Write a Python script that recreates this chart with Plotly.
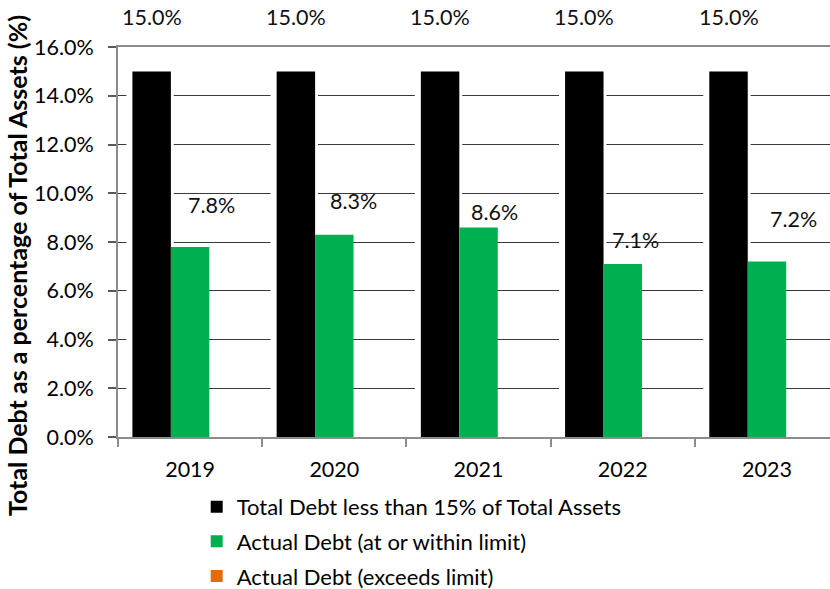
import plotly.graph_objects as go

# ---- data ----
years = ["2019", "2020", "2021", "2022", "2023"]
debt_limit = [15.0, 15.0, 15.0, 15.0, 15.0]
actual_within = [7.8, 8.3, 8.6, 7.1, 7.2]
actual_exceeds = [0.0, 0.0, 0.0, 0.0, 0.0]
y_tick_vals = [0, 2, 4, 6, 8, 10, 12, 14, 16]

series_names = [
    "Total Debt less than 15% of Total Assets",
    "Actual Debt (at or within limit)",
    "Actual Debt (exceeds limit)",
]

# ---- styling ----
FONT = "Lato"
FS = 21.5
BLACK = "#000000"
GREEN = "#00B050"
ORANGE = "#E46C0A"
AXIS_GREY = "#8C8C8C"
GRID = "#3A3A3A"

BAR_W = 0.8 / 3          # three bars share 80% of each category
OFFSETS = [-0.4, -0.4 + BAR_W, -0.4 + 2 * BAR_W]

# hand-placed label nudges (pixels) for the actual-debt labels
green_label_dx = [21, 19, 16, 13, 27]
green_label_dy = [42, 34, 15, 24, 43]
limit_label_dy = 54

fig = go.Figure()

# soft white halo behind the limit bars (hides grid lines next to them)
fig.add_trace(go.Bar(
    x=years, y=[v + 0.15 for v in debt_limit],
    width=BAR_W + 0.062, offset=OFFSETS[0] - 0.042,
    marker=dict(color="white", line=dict(width=0)),
    showlegend=False, hoverinfo="skip",
))

colors = [BLACK, GREEN, ORANGE]
values = [debt_limit, actual_within, actual_exceeds]
for i in range(3):
    fig.add_trace(go.Bar(
        x=years, y=values[i], name=series_names[i],
        width=BAR_W, offset=OFFSETS[i],
        marker=dict(color=colors[i], line=dict(width=0)),
        legendgroup=f"g{i}",
    ))

annotations = []
for i, yr in enumerate(years):
    annotations.append(dict(
        x=i + OFFSETS[0] + BAR_W / 2, y=debt_limit[i], xref="x", yref="y",
        text=f"{debt_limit[i]:.1f}%", showarrow=False,
        yshift=limit_label_dy, xanchor="center", yanchor="middle",
        font=dict(family=FONT, size=FS, color="#111111"),
    ))
    annotations.append(dict(
        x=i + OFFSETS[1] + BAR_W / 2, y=actual_within[i], xref="x", yref="y",
        text=f"{actual_within[i]:.1f}%", showarrow=False,
        xshift=green_label_dx[i], yshift=green_label_dy[i],
        xanchor="center", yanchor="middle",
        font=dict(family=FONT, size=FS, color="#111111"),
    ))

# rotated y-axis title
annotations.append(dict(
    x=0, y=0.4385, xref="paper", yref="paper", xshift=-101,
    text="<b>Total Debt as a percentage of Total Assets (%)</b>",
    textangle=-90, showarrow=False, xanchor="center", yanchor="middle",
    font=dict(family=FONT, size=25, color="#000000"),
))

fig.update_layout(
    width=830, height=589,
    margin=dict(l=118, r=0, t=47, b=152, autoexpand=False),
    paper_bgcolor="white", plot_bgcolor="white",
    barmode="overlay",
    font=dict(family=FONT, size=FS, color="#000000"),
    annotations=annotations,
    showlegend=True,
    legend=dict(
        orientation="v",
        xref="container", x=0.237, xanchor="left",
        yref="container", y=0.175, yanchor="top",
        font=dict(family=FONT, size=22, color="#000000"),
        tracegroupgap=3, bgcolor="rgba(0,0,0,0)",
    ),
)

fig.update_xaxes(
    type="category", range=[-0.5, 4.437],
    showgrid=False, showline=True, linecolor=AXIS_GREY, linewidth=2,
    mirror=True,
    ticks="outside", tickson="boundaries", ticklen=8, tickcolor=AXIS_GREY,
    tickwidth=1.5, ticklabelstandoff=12,
    tickfont=dict(family=FONT, size=FS, color="#000000"),
)

fig.update_yaxes(
    range=[0, 16], tickvals=y_tick_vals,
    ticktext=[f"{v:.1f}%" for v in y_tick_vals],
    showgrid=True, gridcolor=GRID, gridwidth=1,
    showline=True, linecolor=AXIS_GREY, linewidth=2,
    ticks="outside", ticklen=8, tickcolor="#5A5A5A", tickwidth=1.5,
    ticklabelstandoff=10,
    zeroline=False,
    tickfont=dict(family=FONT, size=FS, color="#000000"),
)

fig.write_html("out.html")
